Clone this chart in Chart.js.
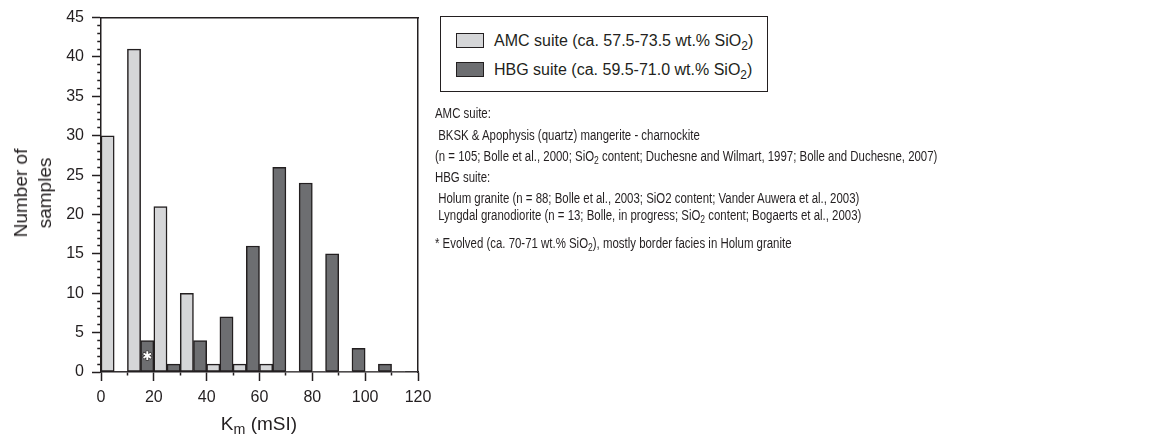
<!DOCTYPE html>
<html>
<head>
<meta charset="utf-8">
<script src="https://cdn.jsdelivr.net/npm/chart.js@4/dist/chart.umd.min.js"></script>
<style>
  body { margin: 0; background: #fff; }
  #page { position: relative; width: 1161px; height: 438px; overflow: hidden;
          font-family: 'Liberation Sans', Arial, sans-serif; color: #231f20; }
  #plot { position: absolute; left: 0; top: 0; width: 440px; height: 438px; }
  .abs { position: absolute; white-space: nowrap; }
  sub { font-size: 75%; vertical-align: -0.3em; line-height: 0; }
  #ytitle { left: 33px; top: 193px; font-size: 19px; line-height: 24px; text-align: center;
            transform: translate(-50%, -50%) rotate(-90deg); }
  #xtitle { left: 259px; top: 424px; font-size: 19px; transform: translate(-50%, -50%); }
  #legend { left: 440px; top: 16px; width: 326px; height: 74px; border: 1.5px solid #231f20; }
  .swatch { width: 26px; height: 13px; border: 1px solid #231f20; }
  .legtext { font-size: 16px; line-height: 15px; }
  .note { font-family: 'Liberation Sans', Arial, sans-serif;
          font-size: 14px; line-height: 14px; transform: scaleX(0.816); transform-origin: 0 50%; }
</style>
</head>
<body>
<div id="page">
  <div id="plot"><canvas id="chart"></canvas></div>
  <div id="ytitle" class="abs">Number of<br>samples</div>
  <div id="xtitle" class="abs">K<sub>m</sub> (mSI)</div>
  <div id="legend" class="abs"></div>
  <div id="legendItems"></div>
  <div id="notes"></div>
</div>
<script>
// ── Data ──────────────────────────────────────────────
const bins = ['0', '10', '20', '30', '40', '50', '60', '70', '80', '90', '100', '110'];
const amcCounts = [30, 41, 21, 10, 1, 1, 1, 0, 0, 0, 0, 0];
const hbgCounts = [0, 4, 1, 4, 7, 16, 26, 24, 15, 3, 1, 0];
const xMax = 120, xMinorStep = 10, xLabelStep = 20;
const yMax = 45, yMinorStep = 1, yLabelStep = 5;
// evolved samples marker: bin index of the HBG bar and height in counts
const starBin = 1, starCount = 1.9;

const legendLabels = [
  'AMC suite (ca. 57.5-73.5 wt.% SiO<sub>2</sub>)',
  'HBG suite (ca. 59.5-71.0 wt.% SiO<sub>2</sub>)',
];
const noteLines = [
  'AMC suite:',
  '&nbsp;BKSK &amp; Apophysis (quartz) mangerite - charnockite',
  '(n = 105; Bolle et al., 2000; SiO<sub>2</sub> content; Duchesne and Wilmart, 1997; Bolle and Duchesne, 2007)',
  'HBG suite:',
  '&nbsp;Holum granite (n = 88; Bolle et al., 2003; SiO2 content; Vander Auwera et al., 2003)',
  '&nbsp;Lyngdal granodiorite (n = 13; Bolle, in progress; SiO<sub>2</sub> content; Bogaerts et al., 2003)',
  '* Evolved (ca. 70-71 wt.% SiO<sub>2</sub>), mostly border facies in Holum granite',
];

const INK = '#231f20';
const AMC_COLOR = '#d5d6d8';
const HBG_COLOR = '#6d6e71';
const TICK_FONT = { family: "'Liberation Sans', Arial, sans-serif", size: 16 };

// ── Legend + notes (html text) ────────────────────────
const colors = [AMC_COLOR, HBG_COLOR];
const legendItems = document.getElementById('legendItems');
legendLabels.forEach((txt, i) => {
  const top = 33 + i * 29;
  legendItems.insertAdjacentHTML('beforeend',
    `<div class="abs swatch" style="left:456px;top:${top}px;background:${colors[i]}"></div>` +
    `<div class="abs legtext" style="left:494px;top:${top}px">${txt}</div>`);
});

const noteTops = [106, 128, 149, 170, 191, 208, 236];
const notes = document.getElementById('notes');
noteLines.forEach((txt, i) => {
  notes.insertAdjacentHTML('beforeend',
    `<div class="abs note" style="left:435px;top:${noteTops[i]}px">${txt}</div>`);
});

// ── Chart ─────────────────────────────────────────────
const starPlugin = {
  id: 'star',
  afterDatasetsDraw(chart) {
    const bar = chart.getDatasetMeta(1).data[starBin];
    if (!bar) return;
    const y = chart.scales.y.getPixelForValue(starCount);
    const c = chart.ctx;
    c.save();
    c.font = '12px "DejaVu Sans"';
    c.textAlign = 'center';
    c.textBaseline = 'middle';
    c.lineWidth = 1.2;
    c.strokeStyle = INK;
    c.fillStyle = '#fff';
    c.strokeText('\u2731', bar.x, y);
    c.fillText('\u2731', bar.x, y);
    c.restore();
  },
};

const zeroless = (ctx) => (ctx.raw === 0 ? 0 : 1.5);

new Chart(document.getElementById('chart'), {
  type: 'bar',
  data: {
    labels: bins,
    datasets: [
      { label: 'AMC', data: amcCounts, backgroundColor: AMC_COLOR },
      { label: 'HBG', data: hbgCounts, backgroundColor: HBG_COLOR },
    ].map(ds => ({
      ...ds,
      xAxisID: 'x',
      yAxisID: 'y',
      borderColor: INK,
      borderWidth: zeroless,
      borderSkipped: false,
      categoryPercentage: 1,
      barPercentage: 1,
    })),
  },
  options: {
    responsive: true,
    maintainAspectRatio: false,
    animation: false,
    layout: { padding: { top: 15, right: 22, bottom: 0, left: 0 } },
    plugins: { legend: { display: false }, tooltip: { enabled: false } },
    scales: {
      x: { type: 'category', display: false, offset: true },
      xt: {
        type: 'linear', position: 'bottom', min: 0, max: xMax, offset: false,
        ticks: {
          stepSize: xMinorStep, autoSkip: false, maxRotation: 0, padding: 7,
          color: INK, font: TICK_FONT,
          callback: v => (v % xLabelStep === 0 ? v : ''),
        },
        grid: {
          offset: false, drawOnChartArea: false, tickLength: 9, tickWidth: 1.5, tickColor: INK,
          tickBorderDash: c => (c.tick && c.tick.value % xLabelStep !== 0 ? [3, 20] : []),
        },
        border: { color: INK, width: 1.5 },
        afterFit: s => { s.height = 66; },
      },
      xTop: {
        type: 'linear', position: 'top', min: 0, max: xMax, offset: false,
        ticks: { display: false },
        grid: { offset: false, drawOnChartArea: false, drawTicks: false },
        border: { color: INK, width: 1.5 },
      },
      y: {
        min: 0, max: yMax,
        ticks: {
          stepSize: yMinorStep, autoSkip: false, padding: 8,
          color: INK, font: TICK_FONT,
          callback: v => (v % yLabelStep === 0 ? v : ''),
        },
        grid: {
          drawOnChartArea: false, tickLength: 9, tickWidth: 1.5, tickColor: INK,
          tickBorderDash: c => (c.tick && c.tick.value % yLabelStep !== 0 ? [3, 5.25] : []),
          tickBorderDashOffset: c => (c.tick && c.tick.value % yLabelStep !== 0 ? 3 : 0),
        },
        border: { color: INK, width: 1.5 },
        afterFit: s => { s.width = 101; },
      },
      yRight: {
        type: 'linear', position: 'right', min: 0, max: yMax,
        ticks: { display: false },
        grid: { drawOnChartArea: false, drawTicks: false },
        border: { color: INK, width: 1.5 },
      },
    },
  },
  plugins: [starPlugin],
});
</script>
</body>
</html>
